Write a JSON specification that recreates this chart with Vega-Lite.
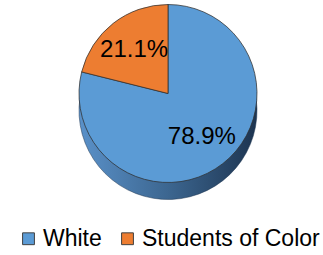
{
  "$schema": "https://vega.github.io/schema/vega-lite/v6.json",
  "width": 323,
  "height": 255,
  "autosize": {"type": "fit", "contains": "padding"},
  "padding": {"left": 13, "right": 0, "top": 2, "bottom": 4},
  "background": "white",
  "config": {"view": {"stroke": null}, "font": "Liberation Sans", "legend": {"layout": {"bottom": {"anchor": "middle"}}}},
  "data": {"values": [
    {"group": "White", "pct": 78.9, "label": "78.9%"},
    {"group": "Students of Color", "pct": 21.1, "label": "21.1%"}
  ]},
  "encoding": {
    "theta": {"field": "pct", "type": "quantitative", "stack": true}
  },
  "layer": [
    {
      "mark": {
        "type": "arc", "radius": 89, "yOffset": 17,
        "fill": {"gradient": "linear", "x1": 0, "y1": 0, "x2": 1, "y2": 0,
          "stops": [{"offset": 0, "color": "#5a91c9"}, {"offset": 0.5, "color": "#3c6690"}, {"offset": 1, "color": "#1d3450"}]},
        "stroke": "#1d3450", "strokeWidth": 0.5
      },
      "encoding": {}
    },
    {
      "mark": {"type": "arc", "radius": 89, "stroke": "#2f2f2f", "strokeWidth": 0.75},
      "encoding": {
        "color": {
          "field": "group", "type": "nominal",
          "sort": ["White", "Students of Color"],
          "scale": {"domain": ["White", "Students of Color"], "range": ["#5b9bd5", "#ed7d31"]},
          "legend": {
            "title": null, "orient": "bottom", "direction": "horizontal",
            "symbolType": "square", "symbolSize": 140, "symbolStrokeColor": "#404040",
            "symbolStrokeWidth": 1, "symbolOpacity": 1,
            "labelFont": "Liberation Sans", "labelFontSize": 23, "labelColor": "#000000",
            "labelOffset": 3, "columnPadding": 14, "offset": 42, "labelLimit": 300
          }
        },
        "order": {"field": "group", "sort": "descending"}
      }
    },
    {
      "mark": {"type": "text", "radius": 55, "fontSize": 24, "font": "Liberation Sans", "color": "#000000"},
      "encoding": {
        "text": {"field": "label"},
        "order": {"field": "group", "sort": "descending"}
      }
    }
  ]
}
